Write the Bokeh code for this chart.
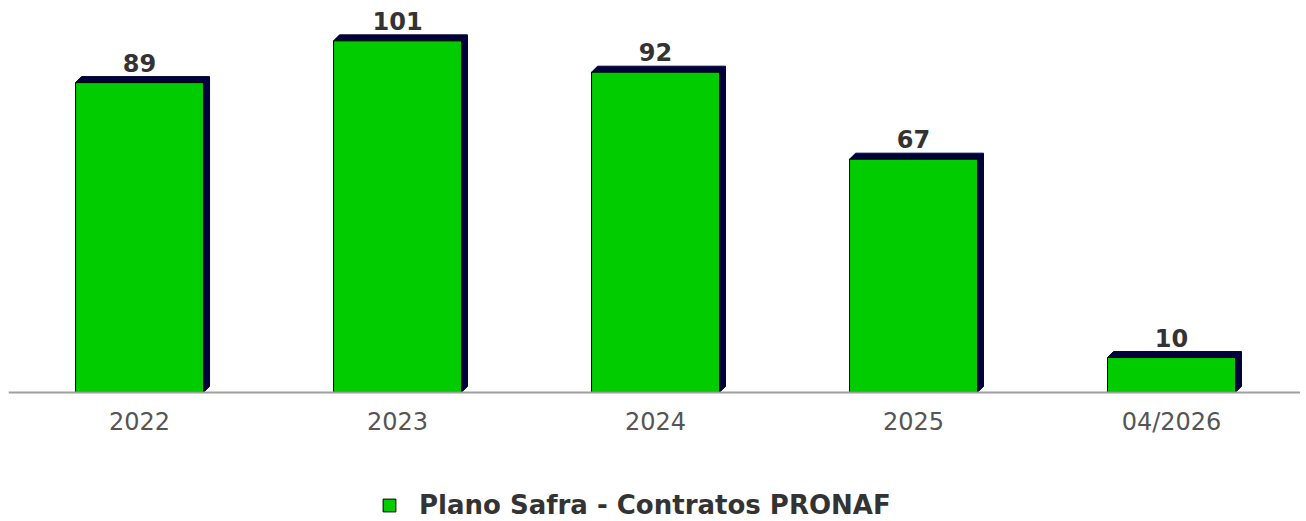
from bokeh.plotting import figure
from bokeh.models import Range1d, FixedTicker, Legend, LegendItem, ColumnDataSource
from bokeh.embed import file_html
from bokeh.resources import INLINE
from bokeh.core.properties import value

categories = ["2022", "2023", "2024", "2025", "04/2026"]
contratos = [89, 101, 92, 67, 10]
series_name = "Plano Safra - Contratos PRONAF"

FRAME_W, FRAME_H = 1292, 513
px_y = 3.48
x_start, x_end = -0.008, 5.0
y_end = 110.3
y_start = -(FRAME_H - y_end * px_y) / px_y
px_x = FRAME_W / (x_end - x_start)
dx = 6 / px_x
dy = 6 / px_y
half = 0.248

p = figure(frame_width=FRAME_W, frame_height=FRAME_H, output_backend="svg",
           toolbar_location=None, x_range=Range1d(x_start, x_end),
           y_range=Range1d(y_start, y_end), min_border_left=8,
           min_border_right=0, min_border_top=8, min_border_bottom=0,
           outline_line_color=None)
p.grid.visible = False
p.yaxis.visible = False

xc = [i + 0.5 for i in range(len(categories))]

# 3D shadow polygons
xs, ys = [], []
for x, v in zip(xc, contratos):
    x0, x1 = x - half, x + half
    xs.append([x0, x0 + dx, x1 + dx, x1 + dx, x1])
    ys.append([v, v + dy, v + dy, dy, 0])
p.patches(xs, ys, fill_color="#00003A", line_color="#00003A", line_width=1)

src = ColumnDataSource(dict(x=xc, top=contratos,
                            lab=[str(v) for v in contratos],
                            ly=[v + dy for v in contratos]))
bars = p.vbar(x="x", top="top", bottom=0, width=2 * half, source=src,
              fill_color="#00CC00", line_color="#000000", line_width=1)

p.text(x="x", y="ly", text="lab", source=src, text_align="center",
       text_baseline="bottom", y_offset=-5, text_font=value("DejaVu Sans"),
       text_font_style="bold", text_font_size="24px", text_color="#333333")

ax = p.xaxis[0]
ax.fixed_location = 0
ax.ticker = FixedTicker(ticks=xc)
ax.major_label_overrides = {x: c for x, c in zip(xc, categories)}
ax.major_tick_line_color = None
ax.minor_tick_line_color = None
ax.axis_line_color = "#A0A0A0"
ax.axis_line_width = 2
ax.major_label_standoff = 10
ax.major_label_text_font = "DejaVu Sans"
ax.major_label_text_font_size = "24px"
ax.major_label_text_color = "#555555"

legend = Legend(items=[LegendItem(label=series_name, renderers=[bars])],
                orientation="horizontal", location=(373, 1),
                label_text_font="DejaVu Sans", label_text_font_style="bold",
                label_text_font_size="26px", label_text_color="#333333",
                glyph_width=16, glyph_height=16, label_standoff=22,
                border_line_color=None, background_fill_alpha=0,
                margin=0, padding=0, label_height=28)
p.add_layout(legend)

open("out.html", "w").write(file_html(p, INLINE))
